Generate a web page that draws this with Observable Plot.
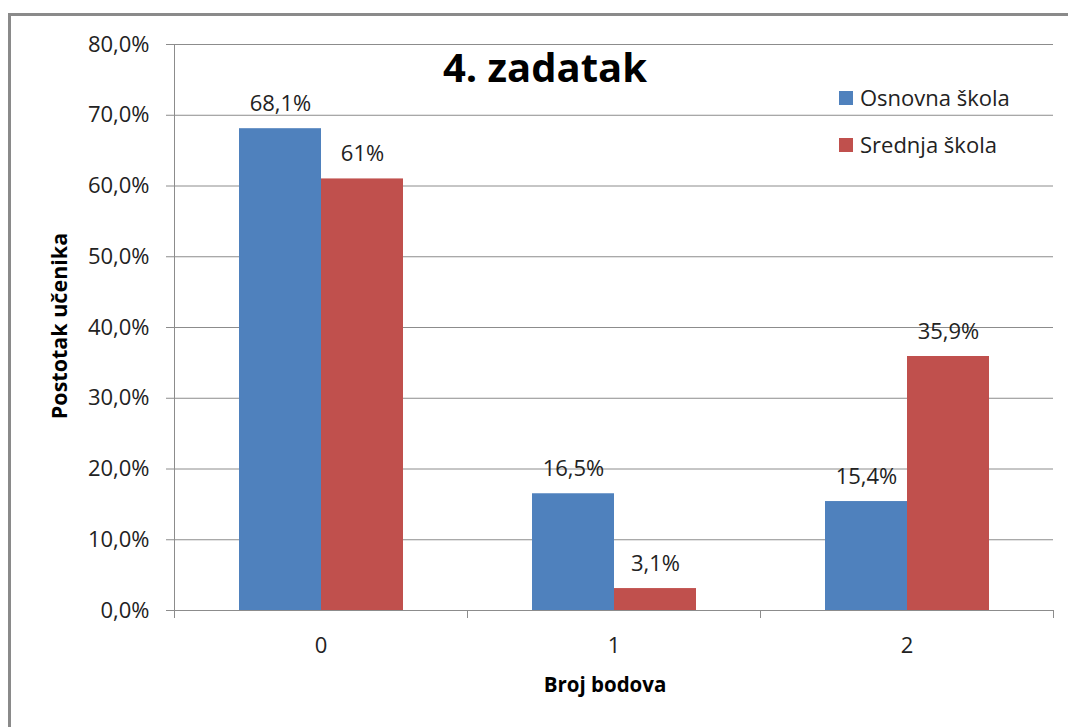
<!DOCTYPE html>
<html><head><meta charset="utf-8">
<script src="https://cdn.jsdelivr.net/npm/d3@7"></script>
<script src="https://cdn.jsdelivr.net/npm/@observablehq/plot@0.6"></script>
<style>
body{margin:0;background:#fff;}
#wrap{position:relative;width:1068px;height:727px;overflow:hidden;background:#fff;}
#border{position:absolute;left:8px;top:13px;width:1100px;height:800px;border-left:3px solid #8a8a8a;border-top:3px solid #8a8a8a;pointer-events:none;}
</style></head>
<body><div id="wrap"><div id="border"></div></div>
<script>
const categories = ["0", "1", "2"];
const series = ["Osnovna škola", "Srednja škola"];
const osnovna = [0.681, 0.165, 0.154];
const srednja = [0.61, 0.031, 0.359];
const labelsOsnovna = ["68,1%", "16,5%", "15,4%"];
const labelsSrednja = ["61%", "3,1%", "35,9%"];
const yTicks = [0, 0.1, 0.2, 0.3, 0.4, 0.5, 0.6, 0.7, 0.8];
const colors = ["#4F81BD", "#C0504D"];
const titleText = "4. zadatak";
const xLabel = "Broj bodova";
const yLabel = "Postotak učenika";

const FONT = '"Open Sans", sans-serif';
const GRID = "#8c8c8c";
const TEXT = "#222";
const FS = 22;

const data = categories.flatMap((c, i) => [
  {cat: c, series: series[0], value: osnovna[i], label: labelsOsnovna[i]},
  {cat: c, series: series[1], value: srednja[i], label: labelsSrednja[i]}
]);

const fmt = d => (d * 100).toFixed(1).replace(".", ",") + "%";

const plot = Plot.plot({
  width: 1068, height: 727,
  marginLeft: 173, marginRight: 15, marginTop: 44, marginBottom: 117,
  style: {fontFamily: FONT, fontSize: FS + "px", color: TEXT, background: "transparent", overflow: "visible"},
  fx: {domain: categories, padding: 0, label: null},
  x: {domain: series, paddingInner: 0, paddingOuter: 0.768, axis: null},
  y: {domain: [0, 0.8], label: null},
  color: {domain: series, range: colors},
  marks: [
    Plot.gridY(yTicks, {stroke: GRID, strokeOpacity: 1, strokeWidth: 1}),
    Plot.barY(data, {fx: "cat", x: "series", y: "value", fill: "series"}),
    Plot.text(data, {fx: "cat", x: "series", y: "value", text: "label", lineAnchor: "bottom", dy: -18, fontSize: FS, fill: TEXT}),
    Plot.axisY({ticks: yTicks, tickFormat: fmt, tickSize: 8, tickPadding: 17, stroke: GRID, fill: TEXT, fontSize: FS, label: null}),
    Plot.axisFx({anchor: "bottom", tickSize: 0, tickPadding: 27, fill: TEXT, fontSize: FS, label: null})
  ]
});

const svg = d3.select(plot);
const fx = plot.scale("fx");
const y = plot.scale("y");
const g = svg.append("g").attr("shape-rendering", "crispEdges");
const x0 = fx.apply(categories[0]);
const xEnd = fx.apply(categories[categories.length - 1]) + fx.bandwidth;
// y axis line
g.append("line").attr("x1", x0).attr("x2", x0).attr("y1", y.apply(0.8)).attr("y2", y.apply(0)).attr("stroke", GRID);
// category boundary ticks
const edges = categories.map(c => fx.apply(c)).concat([xEnd]);
edges.forEach(e => {
  g.append("line").attr("x1", e).attr("x2", e).attr("y1", y.apply(0)).attr("y2", y.apply(0) + 8).attr("stroke", GRID);
});
// title
svg.append("text").attr("x", 545).attr("y", 82).attr("text-anchor", "middle")
  .attr("font-family", FONT).attr("font-weight", "bold").attr("font-size", 40).attr("fill", "#000").text(titleText);
// axis titles
svg.append("text").attr("x", 605).attr("y", 692).attr("text-anchor", "middle")
  .attr("font-family", FONT).attr("font-weight", "bold").attr("font-size", 20.5).attr("fill", "#000").text(xLabel);
svg.append("text").attr("transform", "translate(67,326) rotate(-90)").attr("text-anchor", "middle")
  .attr("font-family", FONT).attr("font-weight", "bold").attr("font-size", 21.5).attr("fill", "#000").text(yLabel);
// legend
series.forEach((s, i) => {
  const top = 91 + i * 47;
  svg.append("rect").attr("x", 839).attr("y", top).attr("width", 14).attr("height", 14).attr("fill", colors[i]);
  svg.append("text").attr("x", 860).attr("y", top + 15).attr("text-anchor", "start")
    .attr("font-family", FONT).attr("font-size", FS).attr("fill", TEXT).text(s);
});

plot.style.position = "absolute";
plot.style.left = "0px";
plot.style.top = "0px";
document.getElementById("wrap").appendChild(plot);
</script>
</body></html>
